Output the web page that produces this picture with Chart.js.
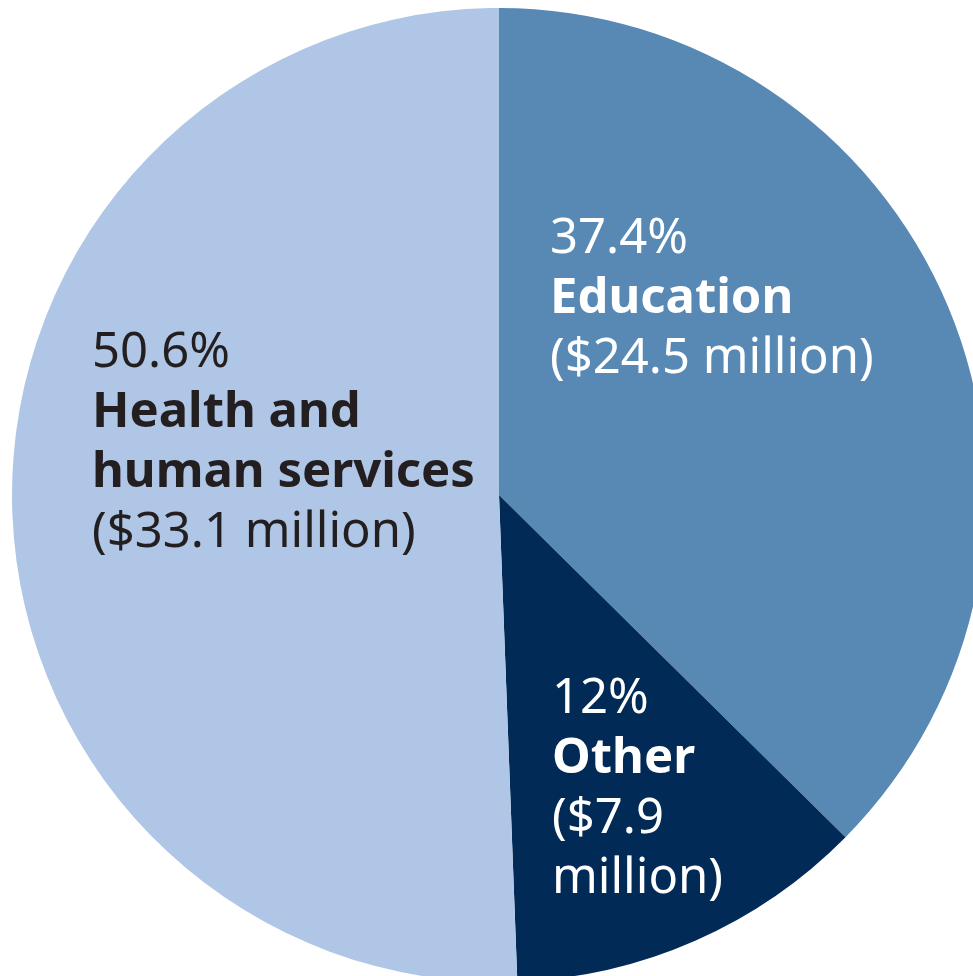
<!DOCTYPE html>
<html>
<head>
<meta charset="utf-8">
<script src="https://cdn.jsdelivr.net/npm/chart.js@4.4.0/dist/chart.umd.min.js"></script>
<style>
  html, body { margin: 0; padding: 0; background: #ffffff; overflow: hidden; width: 973px; height: 976px; }
  #wrap { position: absolute; left: 12px; top: 8px; width: 974px; height: 974px; }
</style>
</head>
<body>
<div id="wrap"><canvas id="c" width="974" height="974"></canvas></div>
<script>
const categories = ["Education", "Other", "Health and human services"];
const shares = [37.4, 12, 50.6];
const amounts = ["$24.5 million", "$7.9 million", "$33.1 million"];
const colors = ["#5889B5", "#022A56", "#B0C6E6"];

// Label text blocks (lines), built from the data arrays
const labelBlocks = [
  { lines: [[shares[0] + "%", false], [categories[0], true], ["(" + amounts[0] + ")", false]], x: 550, y: 253, color: "#ffffff" },
  { lines: [[shares[1] + "%", false], [categories[1], true], ["($7.9", false], ["million)", false]], x: 552, y: 713, color: "#ffffff" },
  { lines: [[shares[2] + "%", false], ["Health and", true], ["human services", true], ["(" + amounts[2] + ")", false]], x: 92, y: 367, color: "#231F20" }
];

const FONT = '"Noto Sans", sans-serif';
const labelPlugin = {
  id: 'labels',
  afterDatasetsDraw(chart) {
    const ctx = chart.ctx;
    ctx.save();
    ctx.textBaseline = 'alphabetic';
    ctx.textAlign = 'left';
    labelBlocks.forEach(b => {
      ctx.fillStyle = b.color;
      b.lines.forEach((ln, i) => {
        ctx.font = (ln[1] ? '700 ' : '400 ') + '49px ' + FONT;
        ctx.fillText(ln[0], b.x - 12, b.y - 8 + i * 60);
      });
    });
    ctx.restore();
  }
};

new Chart(document.getElementById('c'), {
  type: 'pie',
  data: {
    labels: categories,
    datasets: [{
      data: shares,
      backgroundColor: colors,
      borderWidth: 0
    }]
  },
  options: {
    responsive: false,
    animation: false,
    layout: { padding: 0 },
    plugins: { legend: { display: false }, tooltip: { enabled: false } }
  },
  plugins: [labelPlugin]
});
</script>
</body>
</html>
